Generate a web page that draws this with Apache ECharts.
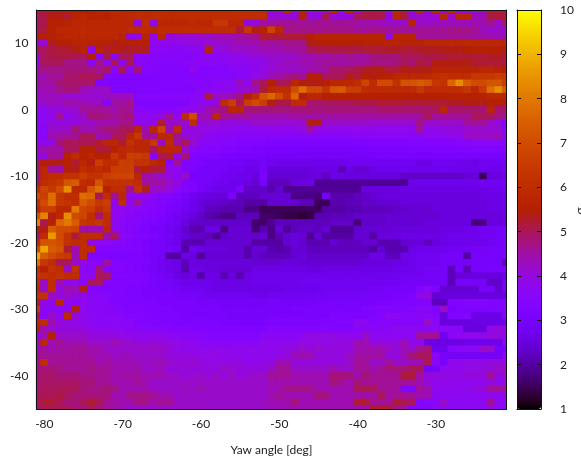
<!DOCTYPE html>
<html><head><meta charset="utf-8">
<style>html,body{margin:0;padding:0;background:#fff}#c{width:581px;height:461px}</style>
<script src="https://cdn.jsdelivr.net/npm/echarts@6/dist/echarts.min.js"></script>
</head><body><div id="c"></div>
<script>
// Yaw bins -81..-21 (columns), pitch bins 15..-45 (rows, top to bottom); cell values are tenths.
const yawStart=-81, pitchStart=15;
const yawTicks=[-80,-70,-60,-50,-40,-30];
const pitchTicks=[-40,-30,-20,-10,0,10];
const axisTitle='Yaw angle [deg]';
const colorTitle='σ';
const rows=[
[52,53,53,54,55,55,55,55,56,57, 58,58,58,59,59,59,59,59,59,59, 59,59,59,59,60,60,60,60,60,60, 40,41,58,40,56,39,39,42,58,40, 58,42,50,51,50,41,58,50,40,58, 40,58,42,58,40,40,42,42,52,52, 52],
[50,51,54,54,52,57,58,56,57,56, 58,58,59,60,59,60,60,59,60,60, 60,60,60,60,60,60,60,60,60,60, 41,41,41,40,56,41,40,51,41,40, 40,50,51,51,51,40,58,52,41,42, 41,41,58,42,58,58,43,44,51,52, 52],
[50,51,56,56,57,58,58,58,58,58, 58,58,58,39,60,38,58,58,58,58, 59,58,58,64,64,58,58,40,40,45, 45,46,46,46,46,46,46,46,46,46, 46,45,44,44,43,42,42,42,57,42, 42,43,43,43,43,43,44,44,47,42, 50],
[50,52,56,58,58,58,59,58,58,58, 58,58,59,59,59,58,60,60,60,60, 60,60,60,60,60,60,52,64,54,56, 68,58,47,47,47,47,47,47,47,47, 47,46,46,47,47,46,46,46,46,46, 46,46,46,47,47,47,46,43,42,42, 42],
[55,55,56,57,58,58,58,58,58,58, 58,57,39,39,57,38,58,40,41,41, 41,42,42,43,44,44,45,46,47,52, 52,52,52,52,52,55,57,57,57,57, 57,57,57,57,57,39,57,57,57,46, 46,46,46,46,46,46,45,45,44,44, 44],
[41,41,53,55,55,57,57,57,56,56, 54,56,55,55,55,38,38,38,38,39, 40,40,41,42,42,43,44,44,44,46, 46,46,47,47,47,54,55,55,55,55, 55,55,56,56,56,57,57,57,57,57, 58,58,58,58,58,58,58,58,58,58, 58],
[50,50,51,52,52,54,57,37,57,52, 56,53,53,53,53,37,36,36,36,36, 37,36,57,39,40,42,42,42,43,44, 44,44,45,45,46,50,51,51,51,51, 51,51,52,52,52,53,53,52,52,53, 53,53,54,54,54,55,56,56,56,55, 55],
[40,50,51,51,51,50,50,56,36,51, 36,50,50,36,36,35,35,35,35,35, 35,36,36,36,37,38,38,39,40,40, 42,41,42,42,44,44,45,44,46,45, 47,45,45,48,48,48,48,50,50,50, 51,51,51,52,52,52,52,52,53,53, 52],
[38,50,50,50,47,47,47,36,47,37, 50,36,50,36,35,35,35,35,35,36, 36,36,36,36,36,38,38,38,38,39, 41,42,43,43,44,44,45,46,45,45, 45,46,46,47,47,47,48,50,48,52, 50,54,54,54,54,54,52,52,52,52, 52],
[46,47,47,47,48,48,48,48,46,50, 36,50,36,48,35,34,34,34,34,34, 38,34,34,35,35,36,36,36,38,39, 41,42,42,42,43,45,45,46,49,49, 50,51,53,54,54,52,52,54,54,54, 54,57,57,57,57,57,57,58,58,57, 56],
[44,44,46,46,49,49,50,50,50,34, 33,33,33,33,33,33,34,34,34,34, 34,34,35,35,35,35,36,37,39,41, 44,45,47,48,46,55,55,50,50,50, 54,52,55,54,55,56,58,58,58,58, 58,60,62,60,60,60,64,64,64,66, 65],
[45,45,45,48,49,49,49,49,33,33, 33,33,33,33,33,33,34,34,34,34, 35,35,35,36,37,37,43,38,47,50, 55,50,50,58,54,54,54,55,58,58, 58,60,68,60,70,70,62,72,72,74, 72,64,62,76,84,74,70,70,72,72, 66],
[44,44,44,47,48,48,44,42,42,42, 33,33,33,33,33,33,34,34,34,34, 34,36,36,37,38,38,40,42,44,52, 58,60,60,70,78,70,70,64,73,74, 66,66,60,59,59,59,59,59,59,64, 59,60,60,60,60,64,58,66,78,84, 74],
[42,43,43,42,41,41,41,41,41,43, 43,43,43,35,35,35,35,35,35,35, 36,36,52,42,43,44,48,54,60,72, 76,70,62,76,54,58,58,55,55,55, 55,55,56,55,55,55,55,55,55,55, 55,55,55,56,56,56,56,56,58,58, 58],
[42,42,43,43,45,44,44,43,43,34, 45,45,47,33,33,33,33,33,33,33, 36,38,38,40,60,66,50,66,70,66, 54,51,51,60,60,49,49,50,50,50, 50,51,51,51,52,52,52,52,52,52, 52,52,52,53,53,54,54,54,55,55, 55],
[38,38,40,40,41,42,46,46,46,46, 44,47,46,36,35,35,35,35,36,38, 38,40,44,46,48,58,58,48,48,48, 48,48,48,48,48,48,48,48,48,48, 48,48,48,48,49,49,49,49,49,49, 49,50,58,49,49,49,49,48,58,49, 49],
[36,37,38,46,38,40,42,48,48,47, 46,47,48,38,38,38,40,46,38,60, 70,44,44,58,46,46,45,45,44,44, 44,44,44,45,45,45,45,45,45,45, 45,45,45,45,45,45,45,45,45,46, 50,46,46,46,46,46,50,50,50,47, 47],
[36,38,40,40,40,40,42,42,44,44, 44,47,47,38,38,38,52,42,42,42, 60,40,42,41,40,40,40,40,42,42, 42,41,41,41,41,54,54,42,42,42, 42,42,42,41,41,41,41,41,41,47, 42,42,42,42,42,46,46,46,42,40, 33],
[36,36,42,42,42,48,44,44,46,48, 48,50,50,58,44,58,68,44,60,40, 40,39,39,38,38,38,37,37,37,37, 38,38,38,38,39,45,39,38,38,38, 38,38,38,38,38,38,38,38,38,46, 38,38,40,40,40,41,42,42,41,41, 36],
[36,36,44,45,46,46,50,50,44,44, 50,50,58,64,46,46,58,58,46,41, 40,40,36,36,36,36,35,35,35,35, 35,35,35,35,35,35,35,35,35,35, 35,36,36,36,36,36,36,36,36,36, 37,37,37,38,38,42,42,42,42,44, 36],
[38,38,38,48,50,50,50,50,52,58, 58,52,62,58,58,64,42,60,45,50, 42,36,36,35,35,35,34,34,33,33, 32,32,32,32,32,32,32,32,32,32, 32,32,32,33,33,33,33,33,34,34, 34,34,34,34,35,35,36,36,36,36, 36],
[42,44,45,45,50,50,56,56,52,52, 56,58,60,58,58,50,58,58,58,42, 36,35,34,34,33,33,32,32,31,31, 31,31,31,31,30,30,30,30,30,30, 30,31,31,31,31,31,31,31,32,32, 32,32,32,32,32,33,33,33,33,33, 33],
[40,40,46,46,56,60,56,58,56,56, 64,58,66,66,64,35,50,52,40,48, 33,32,32,32,31,31,30,30,30,30, 29,29,29,29,29,29,29,29,29,29, 29,29,29,30,30,30,30,30,30,30, 30,30,30,30,30,30,30,30,30,30, 30],
[50,54,54,54,56,52,58,54,66,60, 60,66,66,62,62,58,56,34,46,33, 33,32,31,30,30,29,29,28,28,29, 28,27,27,27,27,27,27,27,27,27, 28,28,28,28,28,28,28,28,28,26, 26,28,28,28,27,27,26,28,28,28, 28],
[50,58,46,44,54,54,60,58,60,58, 66,66,66,52,56,52,52,38,38,33, 32,30,30,30,29,28,28,27,27,30, 25,25,25,25,25,25,26,26,26,22, 26,24,24,26,27,27,27,27,27,27, 27,27,27,27,27,27,27,27,27,27, 28],
[46,58,60,60,62,62,66,62,62,66, 68,68,68,58,44,44,42,40,36,42, 31,30,30,29,28,28,27,27,25,31, 24,24,24,24,24,25,25,22,26,26, 25,25,25,25,25,25,25,23,23,23, 23,23,23,23,23,24,25,15,25,25, 26],
[50,60,62,64,72,74,60,58,72,62, 62,62,62,60,46,45,45,42,40,33, 32,30,29,28,28,27,27,26,24,30, 22,22,22,25,26,26,19,19,19,19, 19,19,19,19,19,19,19,19,27,27, 27,27,27,27,27,27,27,28,28,28, 28],
[60,68,64,70,84,58,58,72,78,56, 60,60,46,62,54,42,42,40,36,34, 32,30,28,27,27,27,31,23,23,23, 21,24,19,19,19,19,19,19,19,19, 19,19,25,25,25,25,25,26,26,26, 26,26,26,26,26,26,26,26,27,27, 27],
[70,66,78,64,60,60,78,76,50,60, 46,58,38,38,38,36,34,34,32,30, 28,26,25,25,25,31,22,22,22,24, 24,24,24,18,18,18,17,29,21,21, 21,22,23,24,25,25,25,25,25,25, 25,25,25,25,25,25,25,26,26,26, 26],
[62,70,78,64,62,60,74,70,64,66, 38,60,38,46,36,35,34,32,31,29, 27,25,24,24,23,22,22,20,20,20, 24,24,24,24,22,22,15,15,21,21, 22,22,23,23,24,24,24,25,25,25, 25,25,25,25,25,25,25,25,26,26, 26],
[58,66,66,58,58,80,68,66,60,64, 38,38,37,36,35,34,33,31,30,28, 27,25,22,22,21,21,21,18,18,15, 15,15,15,15,15,15,15,20,20,20, 21,21,22,22,22,22,23,23,24,24, 24,25,25,25,25,25,25,25,26,26, 26],
[72,82,54,58,84,70,68,60,48,60, 38,37,36,35,34,33,32,30,28,27, 25,23,21,20,18,18,22,22,22,16, 16,15,14,14,13,14,21,21,22,22, 22,23,23,23,23,24,24,24,24,24, 24,24,25,25,25,25,25,25,25,25, 25],
[82,50,56,76,80,74,64,62,64,60, 38,36,35,35,33,32,31,29,28,26, 23,23,23,23,23,23,23,23,16,16, 19,22,22,22,22,22,22,22,23,23, 23,17,23,23,23,24,24,24,24,24, 25,25,25,25,25,25,17,18,25,25, 25],
[54,54,74,70,70,68,45,44,44,58, 38,36,34,33,32,30,30,28,27,24, 21,21,26,26,18,24,24,24,17,21, 18,24,19,22,23,23,22,24,19,19, 19,23,24,24,24,24,25,25,25,25, 25,25,26,26,26,27,27,28,28,29, 29],
[50,60,86,70,62,52,60,60,60,44, 50,37,35,34,33,32,30,29,27,25, 23,23,22,19,23,24,24,24,23,24, 18,21,24,25,24,19,24,20,20,20, 20,24,24,20,25,25,25,26,26,26, 26,26,26,27,27,27,27,28,28,29, 29],
[60,72,72,70,62,60,60,40,38,37, 36,35,34,33,31,30,30,28,27,21, 21,21,24,24,24,24,24,24,20,20, 20,20,24,25,24,21,21,21,24,22, 22,22,24,24,21,21,21,24,24,25, 22,25,26,27,27,27,27,27,28,29, 30],
[70,88,74,72,52,44,60,60,34,34, 34,34,33,33,32,30,30,29,28,20, 27,26,25,25,25,24,24,21,24,24, 21,20,21,24,24,22,22,22,22,22, 22,22,22,20,24,21,21,21,26,27, 27,27,27,28,28,28,29,29,30,30, 30],
[88,74,70,66,64,44,60,33,33,33, 32,32,32,32,31,30,29,20,20,26, 25,19,24,24,24,24,24,21,24,22, 22,22,22,24,25,23,23,23,23,23, 23,23,23,26,26,22,22,27,27,28, 28,28,29,29,29,20,30,30,30,30, 30],
[78,64,60,50,50,42,40,36,35,46, 34,33,33,32,32,30,28,27,26,22, 26,25,25,25,25,25,25,25,24,24, 24,24,25,25,24,24,24,24,24,24, 24,24,25,25,25,25,26,26,27,28, 28,28,29,29,29,29,30,30,30,30, 21],
[62,56,62,60,42,62,36,36,48,35, 34,34,33,32,31,30,28,27,26,21, 26,26,25,25,24,24,24,24,26,26, 26,26,26,26,26,25,25,26,26,26, 26,26,26,26,26,26,27,27,27,28, 29,29,29,22,30,22,30,30,31,31, 31],
[64,62,60,62,60,60,38,38,50,50, 34,34,33,33,32,30,29,28,26,25, 26,20,26,26,21,25,21,26,27,27, 27,27,27,27,27,27,27,27,27,27, 27,27,27,27,27,27,28,28,28,28, 29,29,29,22,25,25,25,25,25,25, 26],
[60,42,60,44,38,38,36,50,50,35, 34,33,33,33,32,31,30,29,28,27, 27,27,27,26,26,26,26,26,27,27, 27,27,27,27,28,28,28,28,28,28, 28,28,28,28,28,28,28,29,29,29, 29,29,29,22,30,30,30,30,23,23, 30],
[58,42,60,40,44,44,54,34,34,33, 33,33,32,32,31,31,30,30,29,28, 28,28,27,26,26,26,26,26,26,26, 26,26,27,27,27,27,27,28,28,28, 28,28,28,29,29,30,30,30,30,34, 36,32,24,24,24,24,24,30,30,24, 30],
[62,62,42,40,42,40,38,36,36,35, 33,33,32,32,31,31,31,31,30,30, 30,29,28,28,28,28,28,28,27,27, 28,28,28,28,28,28,29,29,29,29, 29,29,30,30,30,30,31,31,32,38, 40,24,25,25,25,25,25,25,25,25, 25],
[52,40,38,58,38,36,38,36,36,35, 34,33,33,32,32,32,31,31,31,31, 31,30,30,30,29,29,29,29,29,29, 30,30,29,29,29,30,30,30,30,30, 30,30,30,31,31,31,32,32,32,33, 33,22,22,33,33,34,34,34,33,33, 33],
[64,36,36,36,36,54,38,36,36,36, 35,34,33,33,33,32,32,32,31,31, 31,31,31,31,30,30,30,30,30,30, 30,30,30,31,31,31,31,31,31,31, 31,31,32,33,34,34,33,33,34,36, 36,33,42,31,32,32,32,32,32,33, 34],
[50,36,42,38,58,40,38,37,36,36, 36,35,34,34,33,33,32,32,32,31, 31,31,31,31,31,30,30,30,30,30, 31,31,31,31,31,31,31,31,32,32, 32,32,32,33,34,37,37,35,35,36, 36,35,25,33,33,34,26,26,26,26, 34],
[58,60,44,40,40,38,38,37,36,36, 37,36,36,34,34,33,33,33,32,32, 32,32,32,32,31,31,31,31,31,31, 32,32,32,32,32,32,32,33,33,33, 33,37,37,34,35,35,35,35,35,35, 42,36,25,25,25,25,26,26,26,26, 27],
[56,44,42,40,40,40,40,38,38,37, 37,37,36,36,35,35,35,34,34,34, 33,33,33,33,33,33,32,32,32,32, 35,34,34,34,34,34,34,34,34,34, 34,36,36,36,36,36,38,37,37,37, 37,37,36,36,36,25,25,25,38,40, 40],
[36,44,56,42,42,42,42,40,40,40, 40,39,38,38,38,38,38,37,36,36, 36,35,35,34,34,34,34,34,34,36, 36,36,36,36,38,39,39,39,40,38, 38,37,42,37,37,37,37,37,37,46, 46,46,27,36,37,38,38,38,40,40, 38],
[44,58,44,46,44,44,44,42,42,42, 44,42,42,40,40,41,40,40,39,38, 38,36,36,36,35,36,36,36,36,38, 38,38,38,38,39,39,39,39,39,40, 40,44,44,40,40,40,40,44,38,38, 26,26,26,26,26,27,27,27,27,27, 38],
[44,46,44,45,45,46,46,44,44,42, 42,42,41,42,42,42,42,40,39,38, 38,38,38,38,38,38,38,38,38,38, 38,39,40,40,42,40,42,40,40,40, 40,44,44,44,44,42,40,44,42,46, 48,27,27,34,36,36,36,42,42,30, 30],
[46,46,46,46,46,46,46,45,44,44, 42,43,43,42,42,42,42,40,40,40, 39,39,39,39,38,38,38,38,38,38, 38,39,40,43,44,44,40,40,40,40, 42,45,45,45,45,40,40,44,48,50, 50,36,30,29,29,29,29,29,29,29, 36],
[46,60,46,46,46,46,46,46,44,45, 44,44,44,43,42,43,44,42,41,40, 42,40,39,39,39,40,40,38,38,39, 40,44,44,40,40,40,40,40,40,40, 42,46,46,42,42,46,42,42,44,44, 50,36,30,38,38,39,39,39,40,40, 40],
[48,48,48,47,46,46,46,47,46,46, 44,44,44,45,42,42,43,40,40,41, 40,40,40,40,42,41,40,40,40,40, 42,46,46,42,42,42,42,42,44,42, 42,46,46,44,46,48,48,48,50,50, 29,30,38,38,38,39,39,40,40,42, 42],
[48,49,49,48,48,48,47,47,46,46, 44,45,45,45,44,44,44,42,42,40, 41,42,40,42,40,42,40,41,42,42, 46,46,46,44,44,44,44,44,48,48, 48,44,48,46,46,46,46,52,52,45, 40,40,39,39,39,40,40,40,46,40, 42],
[49,49,49,49,49,49,48,48,46,46, 44,44,44,46,44,42,42,42,42,42, 42,42,42,42,42,42,42,42,42,42, 44,44,44,44,44,44,44,44,48,46, 44,48,46,46,46,46,46,46,46,44, 40,38,38,38,38,38,38,38,40,38, 38],
[48,50,50,50,50,50,48,47,47,48, 47,44,44,44,44,42,42,42,42,43, 42,44,42,42,42,42,42,42,42,42, 43,44,47,47,47,47,44,44,44,44, 44,50,50,50,46,46,46,33,33,46, 44,38,38,38,38,38,40,40,46,46, 46],
[50,50,50,51,50,48,48,48,48,48, 44,44,47,47,47,46,44,44,42,42, 42,42,42,42,42,42,42,42,42,42, 44,46,44,44,44,44,48,48,44,44, 44,45,45,45,50,45,46,46,46,44, 44,37,37,37,37,37,37,38,38,38, 38],
[50,52,52,50,48,48,50,52,50,46, 45,44,44,47,47,44,46,46,42,42, 42,42,42,42,42,42,42,42,42,43, 44,44,44,48,44,44,44,44,44,44, 44,52,52,46,46,46,52,50,50,34, 35,36,42,37,37,37,37,37,46,37, 37],
[48,50,50,50,50,48,48,50,48,46, 45,44,42,42,42,42,42,42,42,42, 42,42,42,42,42,42,42,42,42,42, 43,44,44,44,44,44,44,44,44,44, 44,44,44,52,52,52,46,46,34,34, 34,36,38,37,37,37,37,37,40,37, 37]
];

const cells=[];
rows.forEach((row,r)=>row.forEach((v,c)=>cells.push([yawStart+c,pitchStart-r,v/10])));

// gnuplot default pm3d palette (rgbformulae 7,5,15)
const palette=[];
for(let i=0;i<=64;i++){const t=i/64;
  const R=Math.sqrt(t),G=t*t*t,B=Math.max(0,Math.sin(2*Math.PI*t));
  palette.push('rgb('+Math.round(R*255)+','+Math.round(G*255)+','+Math.round(B*255)+')');}

const font='Lato, "Open Sans", sans-serif', txt='#222', line={show:true,onZero:false,lineStyle:{color:'#111',width:1}};
const frame=(extra)=>Object.assign({type:'value',axisLine:line,axisTick:{show:false},axisLabel:{show:false},splitLine:{show:false},z:5},extra);
const cover=(x,y,w,h)=>({type:'rect',z:3,silent:true,shape:{x,y,width:w,height:h},style:{fill:'#fff'}});
const chart=echarts.init(document.getElementById('c'),null,{renderer:'canvas'});
chart.setOption({
  animation:false,backgroundColor:'#fff',
  grid:[{left:36.5,top:10,width:470,height:399,show:true,borderWidth:0,backgroundColor:'#7a04f0'},{left:517,top:10,width:24,height:399}],
  xAxis:[
    frame({gridIndex:0,position:'bottom',min:-81,max:-21,name:axisTitle,nameLocation:'middle',nameGap:35,
      nameTextStyle:{fontFamily:font,fontSize:12,color:txt},
      axisLabel:{show:true,customValues:yawTicks,fontFamily:font,fontSize:12,color:txt,margin:9}}),
    frame({gridIndex:0,position:'top',min:-81,max:-21}),
    frame({gridIndex:1,position:'bottom',min:0,max:1}),
    frame({gridIndex:1,position:'top',min:0,max:1})
  ],
  yAxis:[
    frame({gridIndex:0,position:'left',min:-45,max:15,
      axisLabel:{show:true,customValues:pitchTicks,fontFamily:font,fontSize:12,color:txt,margin:8}}),
    frame({gridIndex:0,position:'right',min:-45,max:15}),
    frame({gridIndex:1,position:'right',min:1,max:10,interval:1,
      axisTick:{show:true,inside:true,length:4,lineStyle:{color:'#111'}},
      axisLabel:{show:true,fontFamily:font,fontSize:12,color:txt,margin:8,align:'left',verticalAlign:'middle',padding:[0,0,2,11]}}),
    frame({gridIndex:1,position:'left',min:1,max:10,interval:1,
      axisTick:{show:true,inside:true,length:4,lineStyle:{color:'#111'}}})
  ],
  visualMap:{type:'continuous',min:1,max:10,dimension:2,seriesIndex:0,calculable:false,hoverLink:false,
    left:517,top:10,padding:0,itemWidth:24,itemHeight:399,z:1,inRange:{color:palette}},
  graphic:[cover(28,3,7.9,414),cover(507,3,9,414),cover(28,3,488,7),cover(28,409.5,488,6.5),
    {type:'text',z:6,silent:true,x:580,y:211,rotation:Math.PI/2,
     style:{text:colorTitle,fontFamily:font,fontSize:12,fill:txt,textAlign:'center',textVerticalAlign:'middle'}}],
  series:[{type:'heatmap',xAxisIndex:0,yAxisIndex:0,data:cells,progressive:0,z:2}]
});
</script></body></html>
